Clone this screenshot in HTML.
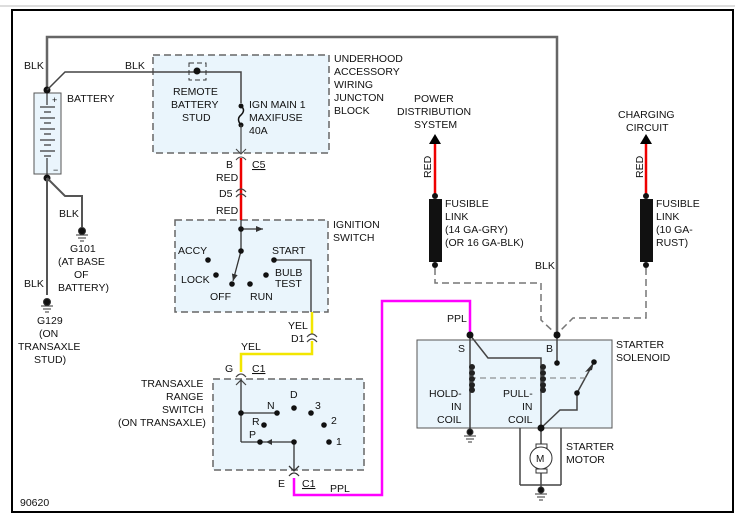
<!DOCTYPE html>
<html><head><meta charset="utf-8"><style>
html,body{margin:0;padding:0;background:#fff;}
svg{display:block;}
text{font-family:"Liberation Sans",sans-serif;font-size:10.5px;fill:#111;}
</style></head><body>
<svg width="735" height="514" viewBox="0 0 735 514" xmlns="http://www.w3.org/2000/svg">
<defs>
<marker id="ar" markerWidth="8" markerHeight="8" refX="7" refY="4" orient="auto" markerUnits="userSpaceOnUse"><path d="M0,1 L7,4 L0,7 z" fill="#333"/></marker>
</defs>
<line x1="0" y1="6" x2="735" y2="6" stroke="#ddd" stroke-width="2"/>
<rect x="12" y="10" width="721" height="502" fill="#fff" stroke="#000" stroke-width="2"/>

<g fill="#eaf5fc" stroke="#666" stroke-width="1.5" stroke-dasharray="7,4">
<rect x="153" y="55" width="176" height="98"/>
<rect x="175" y="220" width="153" height="92"/>
<rect x="213" y="379" width="151" height="91"/>
</g>
<rect x="417" y="340" width="195" height="88" fill="#eaf5fc" stroke="#555" stroke-width="1"/>

<polyline points="47,91 47,37 557,37 557,335" fill="none" stroke="#666" stroke-width="2.5"/>
<rect x="34" y="93" width="27" height="81" fill="#eaf5fc" stroke="#555"/>
<g stroke="#333" stroke-width="1.2">
<line x1="40" y1="107" x2="55" y2="107"/><line x1="44" y1="112" x2="51" y2="112"/>
<line x1="40" y1="118" x2="55" y2="118"/><line x1="44" y1="123" x2="51" y2="123"/>
<line x1="40" y1="129" x2="55" y2="129"/><line x1="44" y1="134" x2="51" y2="134"/>
<line x1="40" y1="140" x2="55" y2="140"/><line x1="44" y1="145" x2="51" y2="145"/>
<line x1="40" y1="151" x2="55" y2="151"/><line x1="44" y1="156" x2="51" y2="156"/>
<line x1="47" y1="93" x2="47" y2="105"/><line x1="47" y1="158" x2="47" y2="174"/>
</g>
<text x="52" y="103" style="font-size:9px">+</text>
<text x="53" y="173" style="font-size:9px">−</text>
<circle cx="47" cy="90" r="3.5" fill="#111"/>
<circle cx="47" cy="178" r="3.5" fill="#111"/>
<polyline points="47,90 65,72 241,72 241,103" fill="none" stroke="#444" stroke-width="1.5"/>
<rect x="189" y="63" width="17" height="17" fill="none" stroke="#333" stroke-dasharray="5,3"/>
<circle cx="197" cy="71" r="3.5" fill="#111"/>
<circle cx="241" cy="106" r="2.5" fill="#111"/>
<path d="M241,106 q5,4 0,9 q-5,4 0,10" fill="none" stroke="#111" stroke-width="1.5"/>
<circle cx="241" cy="125" r="2.5" fill="#111"/>
<line x1="241" y1="125" x2="241" y2="153" stroke="#444" stroke-width="1.2"/>
<path d="M236,149 L241,154 L246,149 M236,160 q5,-6 10,0" fill="none" stroke="#444"/>
<line x1="241" y1="158" x2="241" y2="220" stroke="#e00" stroke-width="2.5"/>
<path d="M236,192 q5,-6 10,0 M236,197 q5,-6 10,0" fill="none" stroke="#444" stroke-width="1.2"/>
<polyline points="47,178 65,196 82,196 82,227" fill="none" stroke="#555" stroke-width="2"/>
<line x1="47" y1="178" x2="47" y2="295" stroke="#555" stroke-width="2"/>
<g fill="#111" stroke="#333">
<circle cx="82" cy="231" r="3.5"/><line x1="76" y1="235" x2="88" y2="235"/><line x1="78" y1="238" x2="86" y2="238"/><line x1="80" y1="241" x2="84" y2="241"/>
<circle cx="47" cy="302" r="3.5"/><line x1="41" y1="306" x2="53" y2="306"/><line x1="43" y1="309" x2="51" y2="309"/><line x1="45" y1="312" x2="49" y2="312"/>
</g>

<g stroke="#333" stroke-width="1.3" fill="none">
<line x1="241" y1="220" x2="241" y2="251"/>
<line x1="241" y1="229" x2="263" y2="229" marker-end="url(#ar)"/>
<line x1="241" y1="251" x2="233" y2="281" marker-end="url(#ar)"/>
<polyline points="274,260 311,260 311,312"/>
</g>
<g fill="#111">
<circle cx="241" cy="229" r="2.8"/><circle cx="241" cy="251" r="2.8"/>
<circle cx="208" cy="260" r="2.8"/><circle cx="216" cy="275" r="2.8"/>
<circle cx="232" cy="284" r="2.8"/><circle cx="250" cy="284" r="2.8"/>
<circle cx="266" cy="275" r="2.8"/><circle cx="274" cy="260" r="2.8"/>
</g>
<path d="M312,312 V334 M312,341 V354 H241 V372" fill="none" stroke="#f2e600" stroke-width="2.5"/>
<path d="M307,337 q5,-6 10,0 M307,342 q5,-6 10,0" fill="none" stroke="#444" stroke-width="1.2"/>
<path d="M236,377 q5,-6 10,0 M236,385 L241,380 L246,385" fill="none" stroke="#444" stroke-width="1.2"/>

<g stroke="#333" stroke-width="1.3" fill="none">
<line x1="241" y1="380" x2="241" y2="442"/>
<line x1="241" y1="413" x2="277" y2="413"/>
<line x1="241" y1="442" x2="294" y2="442"/>
<line x1="294" y1="442" x2="294" y2="470"/>
<path d="M289,466 L294,471 L299,466 M289,476 q5,-6 10,0"/>
</g>
<g fill="#111">
<circle cx="241" cy="413" r="2.8"/><circle cx="277" cy="413" r="2.8"/>
<circle cx="294" cy="408" r="2.8"/><circle cx="311" cy="413" r="2.8"/>
<circle cx="264" cy="425" r="2.8"/><circle cx="324" cy="425" r="2.8"/>
<circle cx="260" cy="442" r="2.8"/><circle cx="294" cy="442" r="2.8"/>
<circle cx="329" cy="442" r="2.8"/>
</g>
<path d="M266,442 l6,-3 v6z" fill="#333"/>

<polyline points="294,478 294,495 382,495 382,301 470,301 470,335" fill="none" stroke="#f0f" stroke-width="2.5"/>

<line x1="435" y1="195" x2="435" y2="143" stroke="#e00" stroke-width="2.5"/>
<path d="M429,144 L435,134 L441,144z" fill="#000"/>
<rect x="429" y="199" width="13" height="63" fill="#111"/>
<circle cx="435" cy="196" r="3" fill="#111"/><circle cx="435" cy="265" r="3" fill="#111"/>
<line x1="646" y1="195" x2="646" y2="143" stroke="#e00" stroke-width="2.5"/>
<path d="M640,144 L646,134 L652,144z" fill="#000"/>
<rect x="640" y="199" width="13" height="63" fill="#111"/>
<circle cx="646" cy="196" r="3" fill="#111"/><circle cx="646" cy="265" r="3" fill="#111"/>
<g fill="none" stroke="#777" stroke-width="1.5" stroke-dasharray="7,4">
<polyline points="435,268 435,283 541,283 541,320 556,334"/>
<polyline points="646,268 646,318 573,318 558,333"/>
</g>

<g stroke="#444" stroke-width="1.5" fill="none">
<line x1="470" y1="335" x2="470" y2="432"/>
<polyline points="470,335 488,358 541,358 541,432"/>
<line x1="557" y1="335" x2="557" y2="363"/>
<polyline points="594,362 577,393 577,410 560,410 541,428"/>
<line x1="520" y1="428" x2="520" y2="485"/><line x1="561" y1="428" x2="561" y2="485"/>
<line x1="520" y1="485" x2="561" y2="485"/>
<line x1="541" y1="428" x2="541" y2="490"/>
</g>
<line x1="470" y1="378" x2="590" y2="378" stroke="#777" stroke-dasharray="6,4"/>
<path d="M585,372 l9,-10 l-2,8z" fill="#333"/>
<g fill="#222">
<circle cx="472" cy="367" r="3"/><circle cx="472" cy="373" r="3"/><circle cx="472" cy="379" r="3"/><circle cx="472" cy="385" r="3"/><circle cx="472" cy="390" r="3"/>
<circle cx="543" cy="367" r="3"/><circle cx="543" cy="373" r="3"/><circle cx="543" cy="379" r="3"/><circle cx="543" cy="385" r="3"/><circle cx="543" cy="390" r="3"/>
</g>
<g fill="#111">
<circle cx="470" cy="335" r="3.5"/><circle cx="557" cy="335" r="3.5"/>
<circle cx="557" cy="363" r="2.8"/><circle cx="594" cy="362" r="2.8"/><circle cx="577" cy="393" r="2.8"/>
<circle cx="541" cy="428" r="3.5"/>
</g>
<rect x="536" y="444" width="11" height="4" fill="#fff" stroke="#333"/>
<rect x="536" y="469" width="11" height="4" fill="#fff" stroke="#333"/>
<circle cx="541" cy="458" r="11" fill="#fff" stroke="#333"/>
<text x="536" y="462" style="font-size:10px">M</text>
<g fill="#111" stroke="#333">
<circle cx="470" cy="432" r="3"/><line x1="464" y1="436" x2="476" y2="436"/><line x1="466" y1="439" x2="474" y2="439"/><line x1="468" y1="442" x2="472" y2="442"/>
<circle cx="541" cy="490" r="3"/><line x1="535" y1="494" x2="547" y2="494"/><line x1="537" y1="497" x2="545" y2="497"/><line x1="539" y1="500" x2="543" y2="500"/>
</g>

<text x="24" y="69">BLK</text>
<text x="125" y="69">BLK</text>
<text x="67" y="102">BATTERY</text>
<text x="173" y="95">REMOTE</text>
<text x="171" y="108">BATTERY</text>
<text x="182" y="121">STUD</text>
<text x="249" y="108">IGN MAIN 1</text>
<text x="249" y="121">MAXIFUSE</text>
<text x="249" y="134">40A</text>
<text x="334" y="62">UNDERHOOD</text>
<text x="334" y="75">ACCESSORY</text>
<text x="334" y="88">WIRING</text>
<text x="334" y="101">JUNCTON</text>
<text x="334" y="114">BLOCK</text>
<text x="226" y="168">B</text>
<text x="252" y="168" text-decoration="underline">C5</text>
<text x="216" y="181">RED</text>
<text x="219" y="197">D5</text>
<text x="216" y="214">RED</text>
<text x="333" y="228">IGNITION</text>
<text x="333" y="241">SWITCH</text>
<text x="178" y="254">ACCY</text>
<text x="272" y="254">START</text>
<text x="181" y="283">LOCK</text>
<text x="275" y="276">BULB</text>
<text x="275" y="287">TEST</text>
<text x="210" y="300">OFF</text>
<text x="250" y="300">RUN</text>
<text x="59" y="217">BLK</text>
<text x="70" y="252">G101</text>
<text x="58" y="265">(AT BASE</text>
<text x="74" y="278">OF</text>
<text x="58" y="291">BATTERY)</text>
<text x="24" y="287">BLK</text>
<text x="37" y="324">G129</text>
<text x="39" y="337">(ON</text>
<text x="18" y="350">TRANSAXLE</text>
<text x="34" y="363">STUD)</text>
<text x="288" y="329">YEL</text>
<text x="291" y="342">D1</text>
<text x="241" y="350">YEL</text>
<text x="225" y="372">G</text>
<text x="252" y="372" text-decoration="underline">C1</text>
<text x="141" y="387">TRANSAXLE</text>
<text x="166" y="400">RANGE</text>
<text x="162" y="413">SWITCH</text>
<text x="118" y="426">(ON TRANSAXLE)</text>
<text x="267" y="409">N</text>
<text x="290" y="398">D</text>
<text x="315" y="409">3</text>
<text x="252" y="425">R</text>
<text x="331" y="424">2</text>
<text x="249" y="438">P</text>
<text x="336" y="445">1</text>
<text x="278" y="487">E</text>
<text x="302" y="487" text-decoration="underline">C1</text>
<text x="330" y="492">PPL</text>
<text x="20" y="506">90620</text>
<text x="414" y="102">POWER</text>
<text x="397" y="115">DISTRIBUTION</text>
<text x="414" y="128">SYSTEM</text>
<text x="618" y="118">CHARGING</text>
<text x="626" y="131">CIRCUIT</text>
<text transform="translate(431,178) rotate(-90)">RED</text>
<text transform="translate(643,178) rotate(-90)">RED</text>
<text x="445" y="207">FUSIBLE</text>
<text x="445" y="220">LINK</text>
<text x="445" y="233">(14 GA-GRY)</text>
<text x="445" y="246">(OR 16 GA-BLK)</text>
<text x="656" y="207">FUSIBLE</text>
<text x="656" y="220">LINK</text>
<text x="656" y="233">(10 GA-</text>
<text x="656" y="246">RUST)</text>
<text x="535" y="269">BLK</text>
<text x="447" y="322">PPL</text>
<text x="458" y="352">S</text>
<text x="546" y="352">B</text>
<text x="616" y="348">STARTER</text>
<text x="616" y="361">SOLENOID</text>
<text x="429" y="397">HOLD-</text>
<text x="451" y="410">IN</text>
<text x="437" y="423">COIL</text>
<text x="503" y="397">PULL-</text>
<text x="522" y="410">IN</text>
<text x="508" y="423">COIL</text>
<text x="566" y="450">STARTER</text>
<text x="566" y="463">MOTOR</text>
</svg>
</body></html>
